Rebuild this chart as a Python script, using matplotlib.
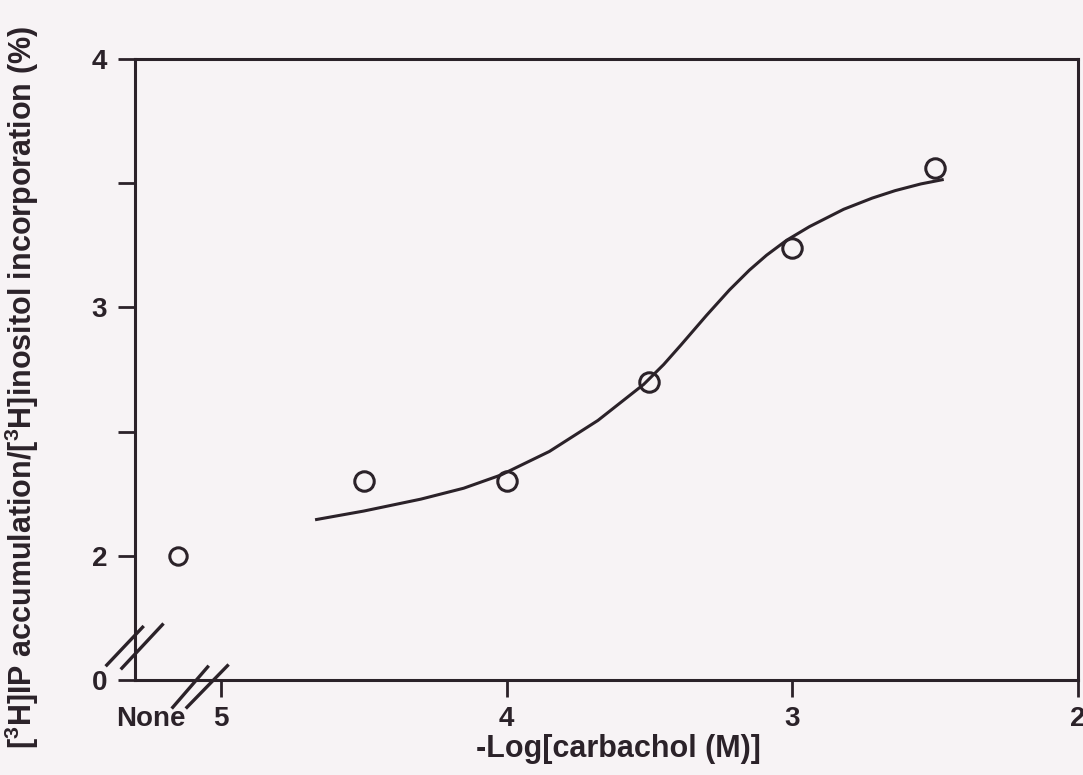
import matplotlib
matplotlib.use('Agg')
import matplotlib.pyplot as plt

plt.rcParams['font.family'] = ['Liberation Sans', 'DejaVu Sans']
plt.rcParams['mathtext.fontset'] = 'custom'
plt.rcParams['mathtext.rm'] = 'Liberation Sans:bold'

INK = '#2b2229'
BG = '#f7f3f5'

# -log[carbachol] for the treated points, and response (%)
dose = [4.5, 4.0, 3.5, 3.0, 2.5]
response = [2.30, 2.30, 2.70, 3.24, 3.56]

# the "None" (no carbachol) point sits left of the axis break
none_pos = 5.15
none_resp = 2.0

# fitted curve
fit_x = [4.67, 4.50, 4.30, 4.15, 4.02, 3.85, 3.68, 3.52, 3.45, 3.39, 3.30,
         3.22, 3.15, 3.09, 3.02, 2.94, 2.82, 2.72, 2.64, 2.55, 2.47]
fit_y = [2.145, 2.180, 2.228, 2.272, 2.325, 2.420, 2.545, 2.690, 2.770, 2.848, 2.968,
         3.070, 3.150, 3.210, 3.270, 3.325, 3.395, 3.440, 3.470, 3.497, 3.515]

xticks = [5.245, 5, 4, 3, 2]
xticklabels = ['None', '5', '4', '3', '2']
# "0" on the y axis sits below the break, drawn at 1.5
yticks = [1.5, 2, 2.5, 3, 3.5, 4]
yticklabels = ['0', '2', '', '3', '', '4']

fig = plt.figure(figsize=(10.83, 7.75), dpi=100, facecolor=BG)
ax = fig.add_axes([0.1247, 0.1226, 0.8707, 0.8013], facecolor=BG)

ax.plot(fit_x, fit_y, color=INK, lw=2.2, solid_capstyle='butt', solid_joinstyle='round')
ax.plot(dose, response, 'o', ms=14, mfc='none', mec=INK, mew=2.2)
ax.plot([none_pos], [none_resp], 'o', ms=12.5, mfc='none', mec=INK, mew=2.2)

ax.set_xlim(5.3, 2.0)
ax.set_ylim(1.5, 4.0)

for s in ax.spines.values():
    s.set_color(INK)
    s.set_linewidth(2.2)

ax.set_xticks(xticks)
ax.set_xticklabels(xticklabels, fontweight='bold')
ax.set_yticks(yticks)
ax.set_yticklabels(yticklabels, fontweight='bold')
ax.tick_params(axis='both', colors=INK, labelsize=20, width=2.0, direction='out', length=12)
ax.tick_params(axis='x', pad=7)
ax.tick_params(axis='y', pad=8)
ax.xaxis.get_major_ticks()[0].tick1line.set_visible(False)

ax.set_xlabel('-Log[carbachol (M)]', fontsize=22, fontweight='bold', color=INK)
ax.xaxis.set_label_coords(0.513, -0.087)
fig.text(0.020, 0.50, r'[$^3$H]IP accumulation/[$^3$H]inositol incorporation (%)',
         rotation=90, ha='center', va='center', fontsize=22, fontweight='bold', color=INK)

# axis break marks
brk = dict(color=INK, lw=2.4, transform=ax.transAxes, clip_on=False)
ax.plot([-0.030, 0.008], [0.024, 0.085], **brk)
ax.plot([-0.014, 0.029], [0.019, 0.089], **brk)
ax.plot([0.040, 0.077], [-0.044, 0.021], **brk)
ax.plot([0.055, 0.098], [-0.044, 0.023], **brk)

fig.savefig('out.png', dpi=100, facecolor=BG)
